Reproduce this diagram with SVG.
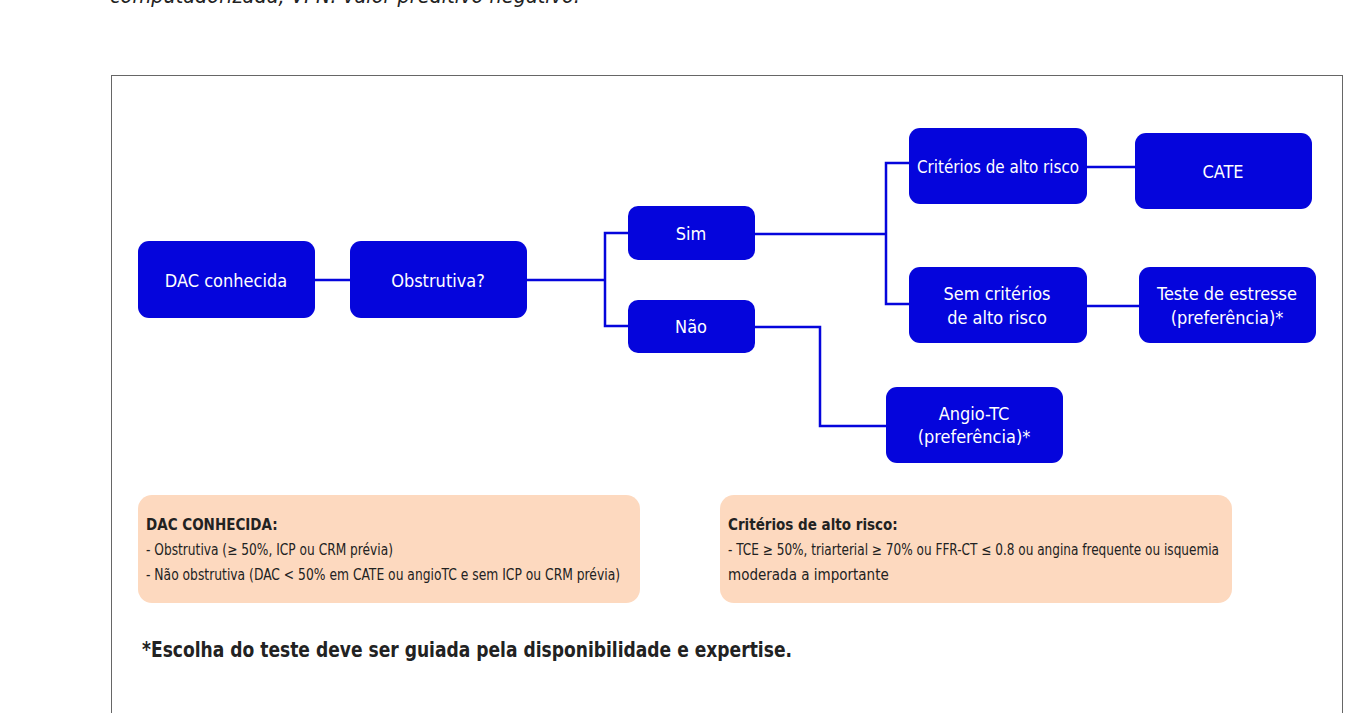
<svg xmlns="http://www.w3.org/2000/svg" width="1350" height="713" viewBox="0 0 1350 713">
<style>
.n{fill:#0505dc}
.t{fill:#fff;font-family:"Liberation Sans Narrow","DejaVu Sans Condensed",sans-serif;font-size:18px;text-anchor:middle}
.c{fill:none;stroke:#0505dc;stroke-width:2.5}
.note{fill:#fdd9bf}
.s{font-family:"Liberation Sans Narrow","DejaVu Sans Condensed",sans-serif;font-size:15px;fill:#222}
</style>
<rect width="1350" height="713" fill="#fff"/>
<text x="110" y="3" font-family="Liberation Sans Narrow, DejaVu Sans Condensed, sans-serif" font-style="italic" font-size="22" fill="#222" textLength="470" lengthAdjust="spacingAndGlyphs">computadorizada; VPN: valor preditivo negativo.</text>
<rect x="111.5" y="75.5" width="1231" height="700" fill="none" stroke="#666" stroke-width="1"/>
<g id="connectors">
<path class="c" d="M315 280H350M527 280H605M628 233H605V326H628M755 234H886M909 163H886V304H909M1087 167H1135M1087 306H1139M755 327H820V426H886"/>
</g>
<g id="dac"><rect class="n" x="138" y="241" width="177" height="77" rx="11"/><text class="t" x="226" y="287">DAC conhecida</text></g>
<g id="obs"><rect class="n" x="350" y="241" width="177" height="77" rx="11"/><text class="t" x="438" y="287">Obstrutiva?</text></g>
<g id="sim"><rect class="n" x="628" y="206" width="127" height="54" rx="10"/><text class="t" x="691" y="240">Sim</text></g>
<g id="nao"><rect class="n" x="628" y="300" width="127" height="53" rx="10"/><text class="t" x="691" y="333">Não</text></g>
<g id="crit"><rect class="n" x="909" y="128" width="178" height="76" rx="11"/><text class="t" x="998" y="173" textLength="162" lengthAdjust="spacingAndGlyphs">Critérios de alto risco</text></g>
<g id="cate"><rect class="n" x="1135" y="133" width="177" height="76" rx="11"/><text class="t" x="1223" y="178">CATE</text></g>
<g id="sem"><rect class="n" x="909" y="267" width="178" height="76" rx="11"/><text class="t" x="997" y="300">Sem critérios</text><text class="t" x="997" y="324">de alto risco</text></g>
<g id="teste"><rect class="n" x="1139" y="267" width="177" height="76" rx="11"/><text class="t" x="1227" y="300">Teste de estresse</text><text class="t" x="1227" y="324">(preferência)*</text></g>
<g id="angio"><rect class="n" x="886" y="387" width="177" height="76" rx="11"/><text class="t" x="974" y="420">Angio-TC</text><text class="t" x="974" y="443">(preferência)*</text></g>
<g id="note1"><rect class="note" x="138" y="495" width="502" height="108" rx="14"/>
<text class="s" x="146" y="530" font-weight="bold">DAC CONHECIDA:</text>
<text class="s" x="146" y="555" textLength="247" lengthAdjust="spacingAndGlyphs">- Obstrutiva (≥ 50%, ICP ou CRM prévia)</text>
<text class="s" x="146" y="580" textLength="474" lengthAdjust="spacingAndGlyphs">- Não obstrutiva (DAC &lt; 50% em CATE ou angioTC e sem ICP ou CRM prévia)</text></g>
<g id="note2"><rect class="note" x="720" y="495" width="512" height="108" rx="14"/>
<text class="s" x="728" y="530" font-weight="bold">Critérios de alto risco:</text>
<text class="s" x="728" y="555" textLength="491" lengthAdjust="spacingAndGlyphs">- TCE ≥ 50%, triarterial ≥ 70% ou FFR-CT ≤ 0.8 ou angina frequente ou isquemia</text>
<text class="s" x="728" y="580">moderada a importante</text></g>
<text x="142" y="657" font-family="Liberation Sans Narrow, DejaVu Sans Condensed, sans-serif" font-size="22" font-weight="bold" fill="#222" textLength="650" lengthAdjust="spacingAndGlyphs">*Escolha do teste deve ser guiada pela disponibilidade e expertise.</text>
</svg>
